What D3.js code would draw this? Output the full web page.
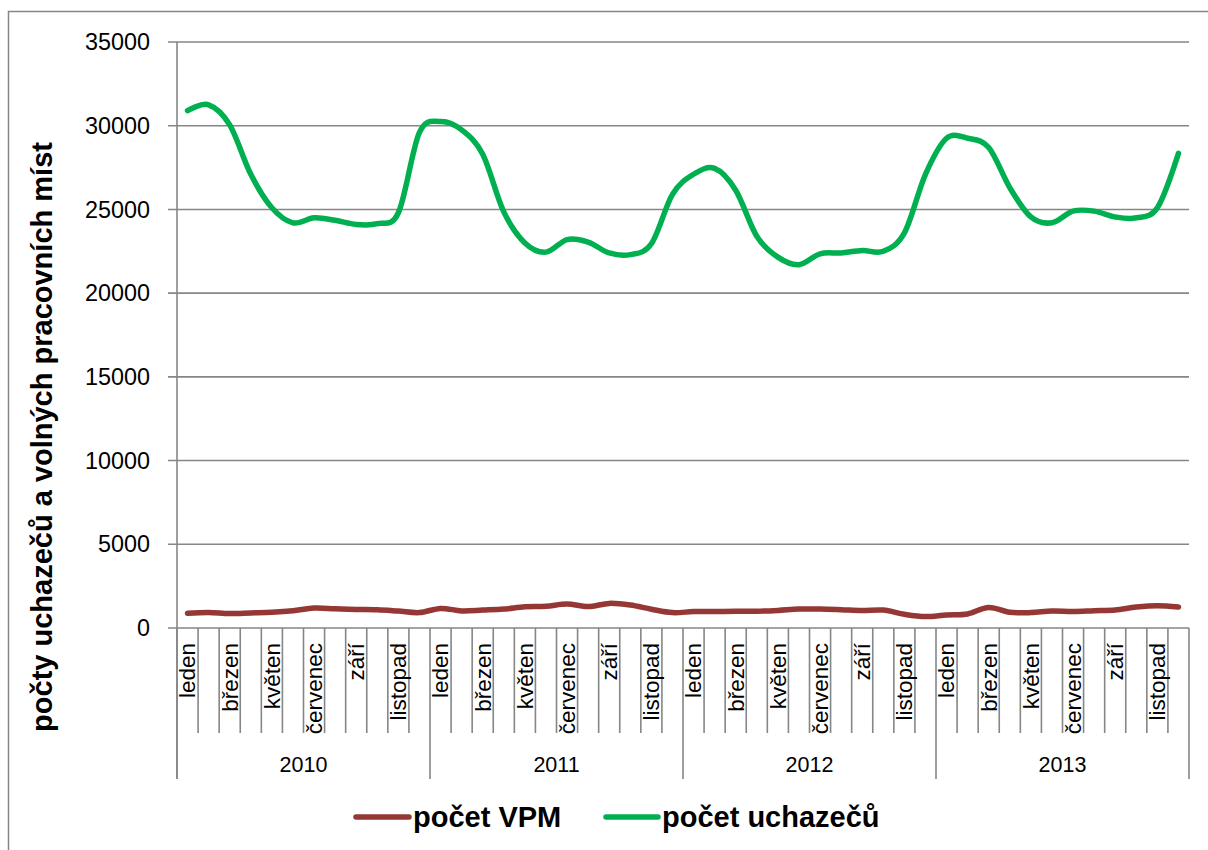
<!DOCTYPE html>
<html>
<head>
<meta charset="utf-8">
<script src="https://cdn.jsdelivr.net/npm/d3@7"></script>
<style>
  html, body { margin: 0; padding: 0; background: #ffffff; }
  svg { display: block; }
</style>
</head>
<body>
<svg id="chart" width="1208" height="850"></svg>
<script>
// ---------- data ----------
const years = ["2010", "2011", "2012", "2013"];
const months = ["leden", "únor", "březen", "duben", "květen", "červen",
                "červenec", "srpen", "září", "říjen", "listopad", "prosinec"];
const yTicks = [0, 5000, 10000, 15000, 20000, 25000, 30000, 35000];

const seriesNames = ["počet VPM", "počet uchazečů"];
const vpm = [
  880, 930, 860, 900, 940, 1030, 1190, 1150, 1110, 1090, 1010, 920,
  1170, 1020, 1070, 1130, 1270, 1300, 1430, 1280, 1470, 1370, 1120, 920,
  980, 980, 1000, 1000, 1050, 1130, 1130, 1090, 1040, 1070, 820, 680,
  780, 840, 1230, 940, 920, 1010, 980, 1030, 1080, 1250, 1330, 1250
];
const uchazecu = [
  30900, 31250, 30050, 27100, 25100, 24200, 24500, 24350, 24100, 24150, 24800, 29600,
  30250, 29750, 28300, 24850, 23000, 22450, 23200, 23050, 22400, 22300, 22950, 25900,
  27100, 27450, 26150, 23400, 22150, 21700, 22350, 22400, 22550, 22500, 23600, 27100,
  29250, 29250, 28700, 26300, 24550, 24200, 24900, 24900, 24550, 24500, 25100, 28350
];
const colors = ["#953735", "#00b050"];

// ---------- layout ----------
const svg = d3.select("#chart");
const plotL = 177, plotR = 1189, plotT = 42, plotB = 628;
const gridColor = "#868686";
const font = "'Liberation Sans', Arial, sans-serif";

// outer border (clipped by image on right/bottom)
svg.append("rect")
  .attr("x", 8.5).attr("y", 11.5)
  .attr("width", 1300).attr("height", 1000)
  .attr("fill", "none").attr("stroke", gridColor).attr("stroke-width", 1.5);

// categories
const cats = [];
years.forEach(yr => months.forEach(m => cats.push(yr + "|" + m)));

const x = d3.scaleBand().domain(cats).range([plotL, plotR]).padding(0);
const y = d3.scaleLinear().domain([0, 35000]).range([plotB, plotT]);

// gridlines
svg.append("g").selectAll("line").data(yTicks).join("line")
  .attr("x1", plotL - 9).attr("x2", plotR)
  .attr("y1", d => y(d)).attr("y2", d => y(d))
  .attr("stroke", gridColor).attr("stroke-width", 1.6);

// y axis line
svg.append("line")
  .attr("x1", plotL).attr("x2", plotL)
  .attr("y1", plotT).attr("y2", 779)
  .attr("stroke", gridColor).attr("stroke-width", 1.6);

// y tick labels
svg.append("g").selectAll("text").data(yTicks).join("text")
  .attr("x", 150).attr("y", d => y(d))
  .attr("dy", "0.35em")
  .attr("text-anchor", "end")
  .attr("font-family", font)
  .attr("font-size", 23.4)
  .attr("fill", "#000")
  .text(d => d);

// category tick lines
const bw = x.bandwidth();
const boundaries = d3.range(cats.length + 1);
svg.append("g").selectAll("line").data(boundaries).join("line")
  .attr("x1", k => plotL + k * bw).attr("x2", k => plotL + k * bw)
  .attr("y1", plotB).attr("y2", k => (k % 12 === 0) ? 779 : 733)
  .attr("stroke", gridColor).attr("stroke-width", 1.6);

// category labels (every second month)
svg.append("g").selectAll("text")
  .data(cats.filter((d, i) => i % 2 === 0))
  .join("text")
  .attr("transform", d => `translate(${x(d) + bw / 2},643) rotate(-90)`)
  .attr("dy", "0.35em")
  .attr("text-anchor", "end")
  .attr("font-family", font)
  .attr("font-size", 22.5)
  .attr("fill", "#000")
  .text(d => d.split("|")[1]);

// year labels
svg.append("g").selectAll("text").data(years).join("text")
  .attr("x", (d, i) => plotL + (i * 12 + 6) * bw)
  .attr("y", 764)
  .attr("dy", "0.35em")
  .attr("text-anchor", "middle")
  .attr("font-family", font)
  .attr("font-size", 21.5)
  .attr("fill", "#000")
  .text(d => d);

// y axis title
svg.append("text")
  .attr("transform", `translate(42,437) rotate(-90)`)
  .attr("dy", "0.35em")
  .attr("text-anchor", "middle")
  .attr("font-family", font)
  .attr("font-weight", "bold")
  .attr("font-size", 29)
  .attr("fill", "#000")
  .text("počty uchazečů a volných pracovních míst");

// lines
const line = d3.line()
  .x((d, i) => x(cats[i]) + bw / 2)
  .y(d => y(d))
  .curve(d3.curveCardinal.tension(0));

[vpm, uchazecu].forEach((s, k) => {
  svg.append("path")
    .datum(s)
    .attr("d", line)
    .attr("fill", "none")
    .attr("stroke", colors[k])
    .attr("stroke-width", 5.5)
    .attr("stroke-linecap", "round")
    .attr("stroke-linejoin", "round");
});

// legend
const legendItems = [
  { name: seriesNames[0], color: colors[0], x1: 356, x2: 409, tx: 413 },
  { name: seriesNames[1], color: colors[1], x1: 606, x2: 658, tx: 662 }
];
const lg = svg.append("g");
legendItems.forEach(it => {
  lg.append("line")
    .attr("x1", it.x1).attr("x2", it.x2)
    .attr("y1", 817).attr("y2", 817)
    .attr("stroke", it.color).attr("stroke-width", 5.5)
    .attr("stroke-linecap", "round");
  lg.append("text")
    .attr("x", it.tx).attr("y", 817)
    .attr("dy", "0.35em")
    .attr("font-family", font)
    .attr("font-weight", "bold")
    .attr("font-size", 29)
    .attr("fill", "#000")
    .text(it.name);
});
</script>
</body>
</html>
